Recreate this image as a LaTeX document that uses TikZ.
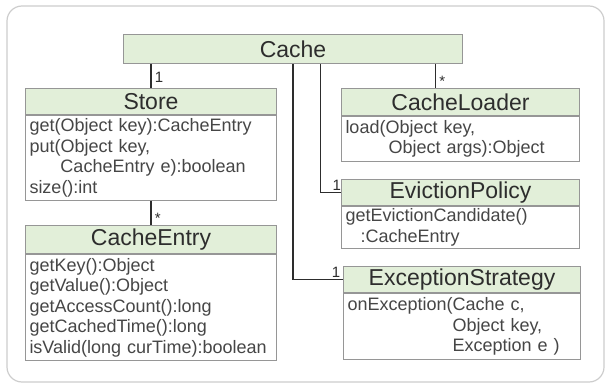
\documentclass[tikz,border=0pt]{standalone}
\usepackage{fontspec}
\setmainfont{Liberation Sans}
\definecolor{headgreen}{RGB}{226,239,217}
\definecolor{boxgray}{RGB}{150,150,150}
\definecolor{framegray}{RGB}{205,205,205}
\definecolor{inkgray}{RGB}{45,45,45}
\definecolor{bodyink}{RGB}{70,70,70}
\tikzset{
  classhead/.style={draw=boxgray, line width=1pt, fill=headgreen, text=inkgray,
    inner sep=0pt, font=\fontsize{23}{26}\selectfont},
  classbody/.style={draw=boxgray, line width=1pt, fill=white, text=bodyink, align=left,
    inner xsep=4pt, inner ysep=2pt, anchor=north, font=\fontsize{18}{20.5}\selectfont},
  link/.style={line width=1.8pt, color=inkgray},
  mult/.style={text=inkgray, inner sep=1pt, font=\fontsize{15}{15}\selectfont}
}
\begin{document}
\begin{tikzpicture}[x=1pt,y=-1pt]
  \useasboundingbox (0,0) rectangle (611,390);
  \draw [line width=1.2pt, color=framegray, rounded corners=15pt] (7,6) rectangle (604,382);

  % classes
  \node [classhead, minimum width=339pt, minimum height=29pt, anchor=north west] (cache) at (123,34) {Cache};

  \node [classhead, minimum width=251pt, minimum height=26pt, anchor=north west] (store) at (25,88) {Store};
  \node [classbody, text width=243pt, minimum height=85pt] (storeBody) at (store.south)
    {get(Object key):CacheEntry\\put(Object key,\\\hspace*{31pt}CacheEntry e):boolean\\size():int};

  \node [classhead, minimum width=251pt, minimum height=28pt, anchor=north west] (entry) at (25,225) {CacheEntry};
  \node [classbody, text width=243pt, minimum height=106pt] (entryBody) at (entry.south)
    {getKey():Object\\getValue():Object\\getAccessCount():long\\getCachedTime():long\\isValid(long curTime):boolean};

  \node [classhead, minimum width=238pt, minimum height=27pt, anchor=north west] (loader) at (341,88) {CacheLoader};
  \node [classbody, text width=230pt, minimum height=45pt] (loaderBody) at (loader.south)
    {load(Object key,\\\hspace*{43pt}Object args):Object};

  \node [classhead, minimum width=238pt, minimum height=26pt, anchor=north west] (policy) at (341,179) {EvictionPolicy};
  \node [classbody, text width=230pt, minimum height=42pt] (policyBody) at (policy.south)
    {getEvictionCandidate()\\\hspace*{15pt}:CacheEntry};

  \node [classhead, minimum width=237pt, minimum height=26pt, anchor=north west] (strategy) at (343,266) {ExceptionStrategy};
  \node [classbody, text width=229pt, minimum height=66pt] (strategyBody) at (strategy.south)
    {onException(Cache c,\\\hspace*{105pt}Object key,\\\hspace*{105pt}Exception e )};

  % associations
  \draw [link] (store.north |- cache.south) -- node [mult, right=2pt, pos=0.55] {1} (store.north);
  \draw [link] (storeBody.south) -- node [mult, right=2pt, pos=0.72] {*} (entry.north);
  \draw [link] ([xshift=-25pt]loader.north |- cache.south) -- node [mult, right=2pt, pos=0.72] {*} ([xshift=-25pt]loader.north);
  \draw [link] ([xshift=27.5pt]cache.south) |- node [mult, pos=0.9, above=0pt] {1} (policy.west);
  \draw [link] (cache.south) |- node [mult, pos=0.93, above=0pt] {1} (strategy.west);
\end{tikzpicture}
\end{document}
